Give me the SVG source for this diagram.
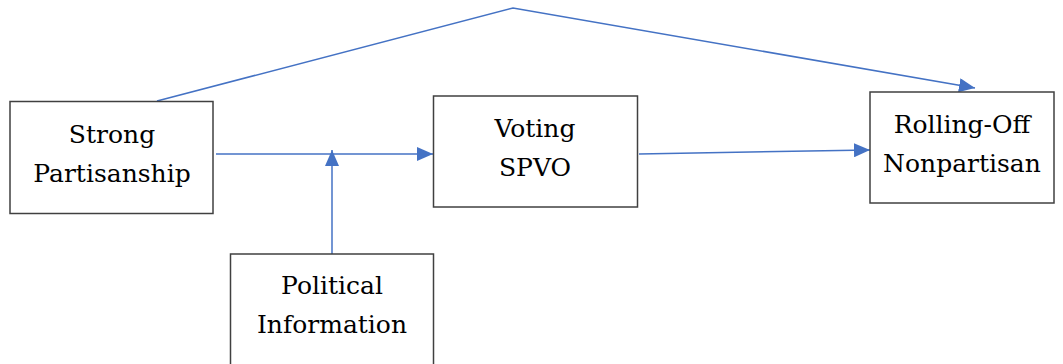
<svg xmlns="http://www.w3.org/2000/svg" width="1063" height="364" viewBox="0 0 1063 364">
<defs>
<style>
.box{fill:#fff;stroke:#404040;stroke-width:1.5}
.con{stroke:#4472C4;stroke-width:1.5;fill:none}
</style>
<marker id="ahb" markerWidth="16" markerHeight="14" refX="16" refY="7" orient="auto" markerUnits="userSpaceOnUse">
<path d="M0,0 L16,7 L0,14 Z" fill="#4472C4"/>
</marker>
</defs>
<g id="connectors">
<polyline class="con" points="157,101 513,8 975,88" marker-end="url(#ahb)"/>
<line class="con" x1="216" y1="154" x2="433" y2="154" marker-end="url(#ahb)"/>
<line class="con" x1="332" y1="254" x2="332" y2="150" marker-end="url(#ahb)"/>
<line class="con" x1="639" y1="154" x2="870" y2="150" marker-end="url(#ahb)"/>
</g>
<g font-family="'DejaVu Serif', 'Liberation Serif', serif" font-size="25" text-anchor="middle" fill="#000">
<g id="strong">
<rect class="box" x="10" y="101.5" width="203" height="112"/>
<text x="112" y="143">Strong</text>
<text x="112" y="182">Partisanship</text>
</g>
<g id="voting">
<rect class="box" x="433.5" y="96" width="204" height="111"/>
<text x="535" y="137">Voting</text>
<text x="535" y="176">SPVO</text>
</g>
<g id="rolling">
<rect class="box" x="870" y="92" width="184" height="111"/>
<text x="962" y="133">Rolling-Off</text>
<text x="962" y="172">Nonpartisan</text>
</g>
<g id="political">
<rect class="box" x="230.5" y="254" width="203" height="115"/>
<text x="332" y="294">Political</text>
<text x="332" y="333">Information</text>
</g>
</g>
</svg>
